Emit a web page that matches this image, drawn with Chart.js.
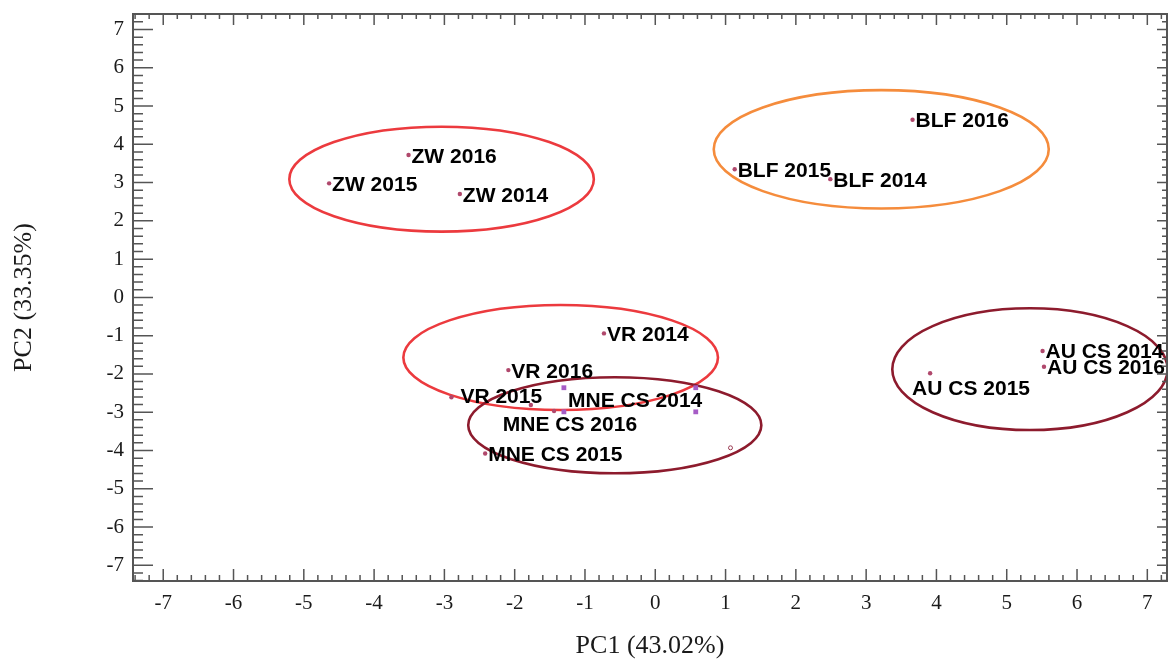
<!DOCTYPE html>
<html>
<head>
<meta charset="utf-8">
<style>
  html, body { margin: 0; padding: 0; background: #ffffff; }
  #wrap { width: 1168px; height: 659px; }
</style>
<script src="https://cdn.jsdelivr.net/npm/chart.js@4/dist/chart.umd.min.js"></script>
</head>
<body>
<div id="wrap"><canvas id="pca" width="1168" height="659"></canvas></div>
<script>
// PCA score plot: sample scores on PC1 / PC2
const sampleLabels = ['ZW 2014', 'ZW 2015', 'ZW 2016',
                      'BLF 2014', 'BLF 2015', 'BLF 2016',
                      'VR 2014', 'VR 2015', 'VR 2016',
                      'MNE CS 2014', 'MNE CS 2015', 'MNE CS 2016',
                      'AU CS 2014', 'AU CS 2015', 'AU CS 2016'];
const pc1Scores = [-2.78, -4.64, -3.51,
                    2.49,  1.13,  3.66,
                   -0.73, -2.90, -2.09,
                   -1.44, -2.42, -1.77,
                    5.51,  3.91,  5.53];
const pc2Scores = [ 2.70,  2.98,  3.72,
                    3.09,  3.35,  4.64,
                   -0.94, -2.61, -1.90,
                   -2.97, -4.08, -2.81,
                   -1.40, -1.98, -1.81];

// unlabelled score point
const extraPc1 = [1.07];
const extraPc2 = [-3.93];

// selection handles around a text box
const handlePc1 = [-1.30, -1.30, 0.576, 0.576];
const handlePc2 = [-2.36, -2.99, -2.36, -2.99];

// group ellipses (centre and semi-axes in score units)
const groupNames = ['ZW', 'BLF', 'VR', 'MNE CS', 'AU CS'];
const ellipseCx = [-3.04, 3.215, -1.346, -0.576, 5.33];
const ellipseCy = [ 3.09, 3.87, -1.57, -3.34, -1.875];
const ellipseRx = [ 2.166, 2.383, 2.238, 2.085, 1.958];
const ellipseRy = [ 1.37, 1.546, 1.372, 1.254, 1.59];

// axis tick labels
const xTickValues = [-7, -6, -5, -4, -3, -2, -1, 0, 1, 2, 3, 4, 5, 6, 7];
const yTickValues = [-7, -6, -5, -4, -3, -2, -1, 0, 1, 2, 3, 4, 5, 6, 7];

const groupEllipses = {
  id: 'groupEllipses',
  beforeDatasetsDraw(chart, args, o) {
    const { ctx, scales: { x, y } } = chart;
    ctx.save();
    ctx.lineWidth = o.lineWidth;
    groupNames.forEach((g, i) => {
      const cx = x.getPixelForValue(ellipseCx[i]);
      const cy = y.getPixelForValue(ellipseCy[i]);
      const rx = Math.abs(x.getPixelForValue(ellipseCx[i] + ellipseRx[i]) - cx);
      const ry = Math.abs(y.getPixelForValue(ellipseCy[i] + ellipseRy[i]) - cy);
      ctx.strokeStyle = o.colors[g];
      ctx.beginPath();
      ctx.ellipse(cx, cy, rx, ry, 0, 0, Math.PI * 2);
      ctx.stroke();
    });
    ctx.restore();
  }
};

const pointLabels = {
  id: 'pointLabels',
  afterDatasetsDraw(chart, args, o) {
    const { ctx } = chart;
    const meta = chart.getDatasetMeta(0);
    ctx.save();
    ctx.font = o.font;
    ctx.fillStyle = o.color;
    ctx.textAlign = 'left';
    ctx.textBaseline = 'alphabetic';
    meta.data.forEach((pt, i) => {
      const name = sampleLabels[i];
      const off = o.offsets[name] || o.defaultOffset;
      ctx.fillText(name, pt.x + off[0], pt.y + off[1] + o.capShift);
    });
    ctx.restore();
  }
};

const frameTicks = {
  id: 'frameTicks',
  afterDraw(chart, args, o) {
    const { ctx, chartArea: a, scales: { x, y } } = chart;
    ctx.save();
    ctx.strokeStyle = o.color;
    ctx.lineWidth = o.tickWidth;
    ctx.beginPath();
    for (let v = Math.ceil(x.min * 5); v <= Math.floor(x.max * 5); v++) {
      const major = v % 5 === 0;
      const px = x.getPixelForValue(v / 5);
      ctx.moveTo(px, a.bottom);
      ctx.lineTo(px, a.bottom - (major ? o.bottomMajor : o.bottomMinor));
      ctx.moveTo(px, a.top);
      ctx.lineTo(px, a.top + (major ? o.topMajor : o.topMinor));
    }
    for (let v = Math.ceil(y.min * 5); v <= Math.floor(y.max * 5); v++) {
      const major = v % 5 === 0;
      const py = y.getPixelForValue(v / 5);
      ctx.moveTo(a.left, py);
      ctx.lineTo(a.left + (major ? o.leftMajor : o.leftMinor), py);
      ctx.moveTo(a.right, py);
      ctx.lineTo(a.right - (major ? o.rightMajor : o.rightMinor), py);
    }
    ctx.stroke();
    ctx.lineWidth = o.frameWidth;
    ctx.strokeRect(a.left, a.top, a.right - a.left, a.bottom - a.top);
    ctx.restore();
  }
};

// keep the plot frame at fixed size: no extra room for end tick labels
function fixBox(size, key) {
  return s => {
    s[key] = size;
    s.paddingTop = 0; s.paddingBottom = 0; s.paddingLeft = 0; s.paddingRight = 0;
  };
}

const tickFont = { family: '"Liberation Serif", "Times New Roman", serif', size: 21 };
const titleFont = { family: '"Liberation Serif", "Times New Roman", serif', size: 26, lineHeight: 1 };

new Chart(document.getElementById('pca'), {
  type: 'scatter',
  data: {
    datasets: [
      {
        label: 'Scores',
        data: pc1Scores.map((v, i) => ({ x: v, y: pc2Scores[i] })),
        pointRadius: 2.2,
        pointBackgroundColor: '#b0486c',
        pointBorderWidth: 0
      },
      {
        label: 'Other',
        data: extraPc1.map((v, i) => ({ x: v, y: extraPc2[i] })),
        pointRadius: 2,
        pointBackgroundColor: 'rgba(0,0,0,0)',
        pointBorderColor: '#9a3a52',
        pointBorderWidth: 1
      },
      {
        label: 'Handles',
        data: handlePc1.map((v, i) => ({ x: v, y: handlePc2[i] })),
        pointStyle: 'rect',
        pointRadius: 3.4,
        pointBackgroundColor: '#a65cc6',
        pointBorderWidth: 0
      }
    ]
  },
  options: {
    responsive: false,
    animation: false,
    events: [],
    layout: { autoPadding: false, padding: { top: 14, right: 1, left: 0, bottom: 0 } },
    plugins: {
      legend: { display: false },
      tooltip: { enabled: false },
      groupEllipses: {
        lineWidth: 2.6,
        colors: { 'ZW': '#ec3a3e', 'BLF': '#f58c3c', 'VR': '#ec3a3e', 'MNE CS': '#8d1b2d', 'AU CS': '#8d1b2d' }
      },
      pointLabels: {
        font: 'bold 21px "Liberation Sans", Arial, sans-serif',
        color: '#000000',
        capShift: 7.5,
        defaultOffset: [3, 0],
        offsets: {
          'VR 2015': [9, -2],
          'MNE CS 2014': [14, -12],
          'MNE CS 2016': [-28, 19],
          'AU CS 2015': [-18, 14]
        }
      },
      frameTicks: {
        color: '#555555',
        tickWidth: 1.5,
        frameWidth: 2,
        leftMajor: 20, leftMinor: 10,
        bottomMajor: 12, bottomMinor: 6,
        topMajor: 11, topMinor: 5,
        rightMajor: 10, rightMinor: 5
      }
    },
    scales: {
      x: {
        type: 'linear',
        min: -7.43,
        max: 7.28,
        afterBuildTicks: s => { s.ticks = xTickValues.map(v => ({ value: v })); },
        afterFit: fixBox(78, 'height'),
        grid: { display: false, drawTicks: false },
        border: { display: false },
        ticks: { font: tickFont, color: '#1a1a1a', padding: 10, maxRotation: 0, autoSkip: false },
        title: { display: true, text: 'PC1 (43.02%)', font: titleFont, color: '#1a1a1a', padding: { top: 0, bottom: 0 } }
      },
      y: {
        type: 'linear',
        min: -7.41,
        max: 7.405,
        afterBuildTicks: s => { s.ticks = yTickValues.map(v => ({ value: v })); },
        afterFit: fixBox(133, 'width'),
        grid: { display: false, drawTicks: false },
        border: { display: false },
        ticks: { font: tickFont, color: '#1a1a1a', padding: 9, autoSkip: false },
        title: { display: true, text: 'PC2 (33.35%)', font: titleFont, color: '#1a1a1a', padding: { top: 11, bottom: 0 } }
      }
    }
  },
  plugins: [groupEllipses, pointLabels, frameTicks]
});
</script>
</body>
</html>
